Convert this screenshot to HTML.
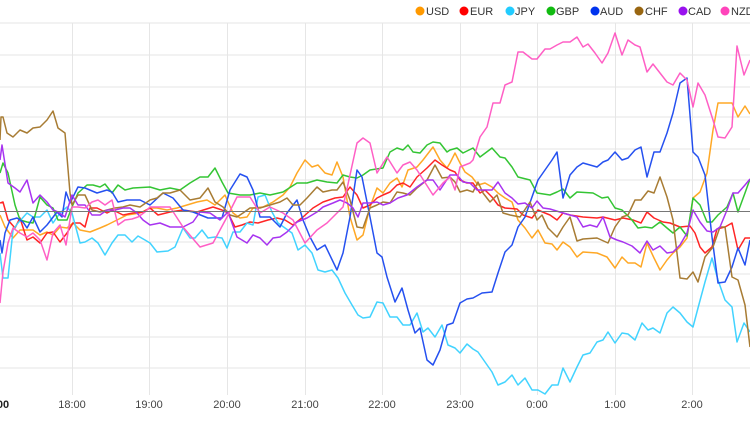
<!DOCTYPE html>
<html><head><meta charset="utf-8"><style>
body{margin:0;background:#fff}
svg{display:block;font-family:"Liberation Sans",sans-serif}
</style></head><body>
<svg width="750" height="430" viewBox="0 0 750 430" xmlns="http://www.w3.org/2000/svg">
<g stroke="#e6e6e6" stroke-width="1">
<line x1="0" y1="23" x2="750" y2="23"/><line x1="0" y1="55" x2="750" y2="55"/><line x1="0" y1="87" x2="750" y2="87"/><line x1="0" y1="117" x2="750" y2="117"/><line x1="0" y1="149" x2="750" y2="149"/><line x1="0" y1="180" x2="750" y2="180"/><line x1="0" y1="242" x2="750" y2="242"/><line x1="0" y1="274" x2="750" y2="274"/><line x1="0" y1="306" x2="750" y2="306"/><line x1="0" y1="337" x2="750" y2="337"/><line x1="0" y1="368" x2="750" y2="368"/>
<line x1="72.5" y1="23" x2="72.5" y2="395"/><line x1="149.5" y1="23" x2="149.5" y2="395"/><line x1="227.5" y1="23" x2="227.5" y2="395"/><line x1="305.5" y1="23" x2="305.5" y2="395"/><line x1="382.5" y1="23" x2="382.5" y2="395"/><line x1="460.5" y1="23" x2="460.5" y2="395"/><line x1="537.5" y1="23" x2="537.5" y2="395"/><line x1="615.5" y1="23" x2="615.5" y2="395"/><line x1="692.5" y1="23" x2="692.5" y2="395"/>
</g>
<g fill="none" stroke-width="1.5" stroke-linejoin="round" opacity="0.85">
<polyline stroke="#ff9900" points="0,215 5,227 13,238 20,230 27,230 33,230 40,235 47,232 53,235 60,227 67,228 73,223 80,230 90,232 100,228 107,225 117,220 127,215 140,213 150,208 157,208 167,210 177,208 187,205 197,202 207,200 215,205 225,195 233,213 240,218 247,217 253,208 263,207 273,202 283,195 290,187 297,173 305,160 312,167 318,165 325,173 332,175 337,162 343,177 350,217 357,240 363,235 370,207 377,188 383,193 390,183 397,178 402,187 408,170 417,167 423,160 433,147 440,160 447,168 450,163 455,153 460,163 465,172 472,177 478,185 485,183 492,187 498,193 505,198 512,202 518,220 525,228 532,238 538,230 545,243 552,244 557,250 563,242 570,247 577,257 583,252 597,253 607,257 615,268 622,257 628,263 635,263 641,267 647,243 654,258 660,270 667,260 673,253 680,247 687,238 693,198 700,192 707,173 713,130 718,103 725,103 732,103 738,117 745,106 750,114"/>
<polyline stroke="#ff0000" points="0,203 3,202 8,220 15,228 20,218 27,240 33,237 40,243 47,233 53,232 60,242 67,233 73,223 80,223 85,227 90,208 97,208 107,213 113,210 123,215 133,213 143,212 150,208 158,215 170,212 183,210 197,212 213,207 222,210 228,213 235,227 242,225 250,222 258,223 268,220 277,218 285,220 293,225 303,217 313,208 323,202 335,198 343,197 350,187 357,195 363,208 370,205 377,198 383,195 390,192 397,185 403,183 410,187 417,177 427,168 435,160 442,165 450,170 455,172 460,180 467,183 473,183 480,193 485,190 492,197 498,205 505,208 517,209 523,215 532,218 538,210 545,213 550,215 557,220 563,213 570,215 583,217 597,218 603,217 615,220 623,218 633,220 641,223 647,212 654,218 663,222 670,223 680,227 690,226 695,233 700,247 705,253 712,247 717,229 725,227 732,223 738,250 745,238 750,238"/>
<polyline stroke="#22ccff" points="0,253 3,278 8,278 13,230 18,223 27,213 33,217 40,217 47,210 53,223 60,213 67,207 72,213 80,243 85,242 92,238 98,243 105,255 112,243 118,235 125,235 132,242 138,236 145,240 150,243 157,252 168,251 175,247 183,228 190,238 195,238 202,230 208,238 215,237 222,238 227,248 233,232 240,232 247,223 253,225 258,197 265,195 272,212 278,223 285,228 292,233 298,250 305,245 312,253 318,270 325,272 332,270 338,278 345,293 352,305 358,315 363,318 370,317 377,302 383,303 390,317 397,317 403,325 410,325 417,313 423,332 428,328 435,337 442,325 448,345 455,348 460,353 467,344 473,349 478,352 485,362 492,372 498,385 505,382 512,375 518,385 525,378 532,390 538,390 545,394 552,385 558,385 563,368 570,382 577,367 583,355 590,353 597,342 603,340 608,332 615,343 622,333 628,334 635,340 642,323 648,330 653,328 660,333 667,313 673,307 680,313 687,322 693,327 698,308 705,282 712,258 718,280 725,300 732,307 737,342 744,323 750,332"/>
<polyline stroke="#11bb11" points="0,173 3,163 8,173 15,205 20,220 27,222 33,223 40,197 47,205 53,208 58,220 67,220 72,207 78,193 87,185 93,185 100,187 105,184 112,193 118,185 125,190 133,188 150,187 160,190 170,188 180,190 190,183 200,177 208,177 215,168 222,182 228,193 240,195 250,195 260,193 270,195 283,192 297,183 307,183 317,180 327,182 337,183 343,175 350,177 357,178 363,175 370,170 383,168 390,152 397,148 403,150 408,145 413,152 420,153 427,145 433,142 440,143 447,152 450,150 457,148 463,153 473,148 480,157 492,148 500,157 505,158 512,167 518,177 530,180 537,193 550,195 557,192 563,189 570,198 577,192 593,193 602,198 608,197 615,208 622,210 632,220 638,228 645,227 652,228 660,222 667,228 673,233 680,227 687,236 693,198 700,205 707,222 712,222 718,215 727,207 733,193 738,212 745,193 750,179"/>
<polyline stroke="#0033ee" points="0,240 2,253 5,233 10,220 17,218 23,222 27,228 33,217 40,232 47,225 57,212 62,217 66,192 70,203 78,187 85,188 97,193 107,190 112,192 118,202 127,200 140,200 150,205 163,193 173,198 183,210 193,212 208,218 222,218 230,190 240,174 247,177 253,190 260,217 270,217 280,227 287,213 297,200 303,220 310,237 317,250 325,245 337,270 343,253 350,217 357,170 362,177 370,217 377,253 382,257 387,277 395,302 402,288 408,310 415,333 420,328 427,360 433,365 440,350 447,325 453,323 460,303 467,299 473,298 482,293 492,292 498,273 505,252 512,245 518,227 525,217 532,197 538,180 545,170 552,160 557,152 563,198 570,175 577,167 583,163 590,165 597,167 603,162 608,160 615,152 622,160 628,158 635,150 641,147 647,177 654,152 660,152 667,133 673,113 680,83 687,78 693,152 698,157 705,175 712,237 718,283 725,282 732,267 738,248 745,265 750,240"/>
<polyline stroke="#996611" points="0,140 1,117 3,117 7,133 13,137 20,130 27,133 33,128 40,127 47,120 53,111 58,128 65,133 70,193 72,205 78,195 85,195 92,210 100,212 107,210 115,208 123,207 130,205 140,207 150,200 157,198 163,193 170,193 180,190 190,200 200,198 208,188 215,202 223,207 230,215 237,217 243,213 250,208 260,208 270,205 280,202 287,198 293,205 300,205 307,198 317,187 323,192 332,190 337,190 343,182 350,200 357,227 363,228 370,208 377,205 383,202 390,203 397,192 403,193 410,195 417,188 427,180 435,165 442,178 450,177 455,182 460,192 467,190 473,192 478,182 483,193 490,202 497,195 503,213 510,215 520,217 530,202 537,220 542,215 548,228 557,237 563,227 570,217 577,241 583,239 597,238 608,243 615,227 622,217 628,215 635,200 641,200 648,191 654,193 660,177 667,197 673,220 680,278 687,279 693,272 698,282 705,257 713,247 720,227 725,227 732,277 738,280 745,305 750,347"/>
<polyline stroke="#9911ee" points="0,160 2,145 8,183 15,188 20,192 27,180 33,203 40,195 47,202 53,210 58,212 65,217 72,195 78,205 85,205 92,215 100,215 107,210 115,210 123,208 130,208 137,213 143,220 150,225 160,223 170,227 183,227 193,222 200,212 210,213 220,220 228,212 237,237 247,243 253,235 260,238 267,245 273,238 280,237 287,232 297,222 307,218 317,212 323,207 333,203 340,200 347,203 353,208 358,217 363,203 370,203 377,202 383,205 390,203 398,198 407,195 417,187 427,180 433,180 440,190 450,175 457,175 463,182 470,183 477,190 483,190 492,190 498,182 505,193 512,198 518,204 525,203 532,208 537,201 543,208 550,209 563,213 577,217 583,227 590,225 597,227 603,217 610,237 617,240 623,242 632,246 640,253 647,241 653,250 660,246 667,253 673,252 680,245 687,233 693,210 700,222 707,231 713,232 720,227 727,210 733,193 738,193 745,185 750,179"/>
<polyline stroke="#ff44bb" points="0,303 3,272 8,243 13,228 20,233 27,237 33,233 40,240 47,260 53,233 60,225 66,245 72,207 78,207 85,208 92,202 98,200 105,205 112,200 118,225 125,220 132,219 138,217 145,212 150,207 170,207 183,227 200,247 213,243 227,217 237,197 250,197 260,213 270,207 283,213 293,220 305,243 317,230 327,223 337,213 343,207 357,143 363,138 370,143 377,173 387,157 397,173 403,165 410,162 417,170 433,195 443,183 450,177 455,190 460,167 470,163 473,160 480,137 487,127 493,103 500,103 505,85 512,82 518,52 523,52 532,59 537,59 545,49 550,49 557,45 563,42 570,42 577,37 583,47 588,44 595,53 602,63 608,53 615,33 622,55 628,40 635,45 640,47 647,72 653,64 660,73 667,82 673,85 680,73 687,80 693,107 698,83 705,95 713,120 718,137 725,138 732,127 737,46 744,75 750,60"/>
</g>
<line x1="0" y1="211.5" x2="750" y2="211.5" stroke="#777" stroke-width="1"/>
<g font-size="11" fill="#444" text-anchor="middle">
<text x="-5" y="408" font-weight="bold" fill="#222">17:00</text>
<text x="72" y="408">18:00</text><text x="149" y="408">19:00</text><text x="227" y="408">20:00</text><text x="305" y="408">21:00</text><text x="382" y="408">22:00</text><text x="460" y="408">23:00</text><text x="537" y="408">0:00</text><text x="615" y="408">1:00</text><text x="692" y="408">2:00</text>
</g>
<g font-size="11" fill="#333">
<circle cx="420" cy="11" r="4.5" fill="#ff9900"/><text x="426" y="15">USD</text>
<circle cx="464" cy="11" r="4.5" fill="#ff0000"/><text x="470" y="15">EUR</text>
<circle cx="510" cy="11" r="4.5" fill="#22ccff"/><text x="515" y="15">JPY</text>
<circle cx="551" cy="11" r="4.5" fill="#11bb11"/><text x="556" y="15">GBP</text>
<circle cx="595" cy="11" r="4.5" fill="#0033ee"/><text x="600" y="15">AUD</text>
<circle cx="639" cy="11" r="4.5" fill="#996611"/><text x="645" y="15">CHF</text>
<circle cx="683" cy="11" r="4.5" fill="#9911ee"/><text x="688" y="15">CAD</text>
<circle cx="725" cy="11" r="4.5" fill="#ff44bb"/><text x="731" y="15">NZD</text>
</g>
</svg>
</body></html>
